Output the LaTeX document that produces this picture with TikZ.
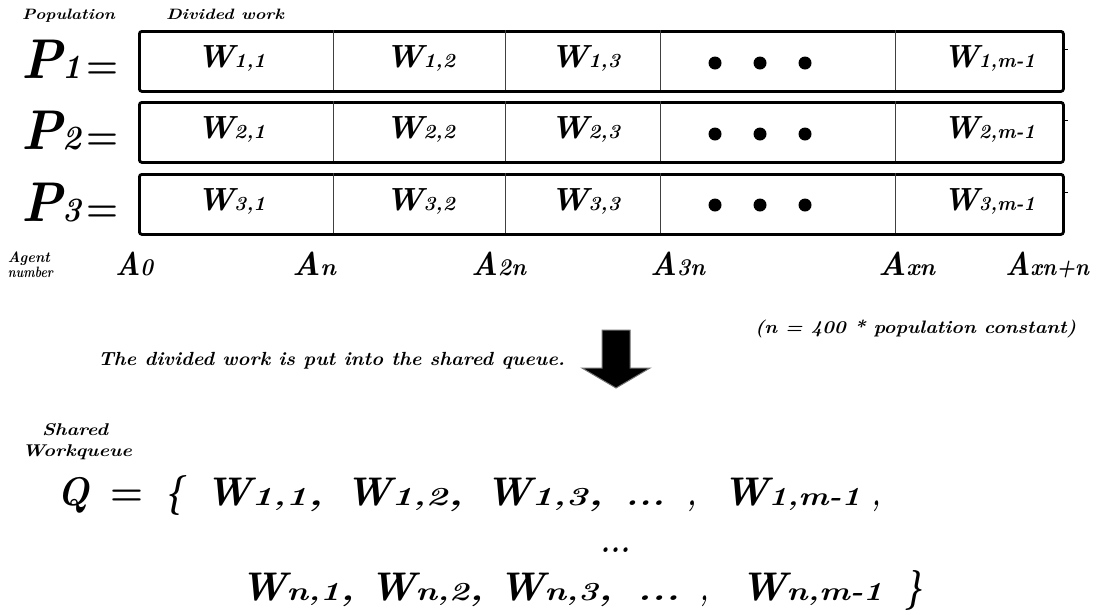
\documentclass[tikz,border=0pt]{standalone}
\usepackage{fontspec}
\usepackage{graphicx}
\newcommand\fs[1]{\fontsize{#1}{#1}\selectfont}
\newcommand\fitw[2]{\resizebox{#1}{\height}{#2}}
\newcommand\qw[3]{\fs{40}W\fitw{#3}{\fs{26}#1\fs{32}#2}}
\tikzset{
  lbl/.style={inner sep=0pt, outer sep=0pt, font=\bfseries\itshape, anchor=base west},
  lblc/.style={inner sep=0pt, outer sep=0pt, font=\bfseries\itshape, anchor=base},
  rowbox/.style={draw, line width=2.8pt, rounded corners=2.5pt, minimum width=924pt, minimum height=60pt, anchor=north west, inner sep=0pt},
  divider/.style={line width=0.9pt, black!75},
  dotmark/.style={circle, fill=black, minimum size=13pt, inner sep=0pt},
  tick/.style={line width=1.6pt},
}
\begin{document}
\begin{tikzpicture}[x=1pt,y=-1pt]
\fill[white] (0,0) rectangle (1110,614);
\useasboundingbox (0,0) rectangle (1110,614);

% header labels
\node[lbl] (pop) at (22,19) {\fitw{93pt}{\fs{15}Population}};
\node[lbl] (div) at (166,19) {\fitw{118pt}{\fs{15}Divided work}};

% rows
\foreach \r/\top/\base/\dy in {1/30/67/63, 2/101/138/134, 3/173/210/205}{
  \node[rowbox] (r\r) at (138,\top) {};
  \draw[divider] (333,\top) -- ++(0,60);
  \draw[divider] (505,\top) -- ++(0,60);
  \draw[divider] (660,\top) -- ++(0,60);
  \draw[divider] (895,\top) -- ++(0,60);
  \draw[tick] (r\r.east) ++(0,-12) -- ++(3,0);
  \node[lbl] (p\r) at (21,\base+11) {\fitw{60pt}{\fs{56}P\fs{34}\r}};
  \node[lbl] (e\r) at (86,\base+11) {\fitw{32pt}{\fs{40}\upshape=}};
  \node[lblc] (w\r a) at (231,\base) {\fitw{69pt}{\fs{32}W\fs{20}\r,1}};
  \node[lblc] (w\r b) at (420,\base) {\fitw{70pt}{\fs{32}W\fs{20}\r,2}};
  \node[lblc] (w\r c) at (585,\base) {\fitw{70pt}{\fs{32}W\fs{20}\r,3}};
  \node[lblc] (w\r m) at (989,\base) {\fitw{92pt}{\fs{32}W\fs{20}\r,m-1}};
  \node[dotmark] (d\r a) at (715,\dy) {};
  \node[dotmark] (d\r b) at (760,\dy) {};
  \node[dotmark] (d\r c) at (805,\dy) {};
}

% agent numbers
\node[lbl] (ag1) at (8,262) {\fitw{42pt}{\fs{15}Agent}};
\node[lbl] (ag2) at (8,277) {\fitw{45pt}{\fs{15}number}};
\node[lbl] (a0) at (115,275) {\fitw{38pt}{\fs{33}A\fs{24}0}};
\node[lbl] (a1) at (292,275) {\fitw{44pt}{\fs{33}A\fs{24}n}};
\node[lbl] (a2) at (471,275) {\fitw{55pt}{\fs{33}A\fs{24}2n}};
\node[lbl] (a3) at (650,275) {\fitw{55pt}{\fs{33}A\fs{24}3n}};
\node[lbl] (ax) at (878,275) {\fitw{57pt}{\fs{33}A\fs{24}xn}};
\node[lbl] (axn) at (1005,275) {\fitw{84pt}{\fs{33}A\fs{24}xn+n}};

\node[lbl] (note) at (755,333) {\fitw{321pt}{\fs{18}(n = 400 * population constant)}};
\node[lbl] (put) at (98,365) {\fitw{467pt}{\fs{19}The divided work is put into the shared queue.}};

% block arrow
\draw[fill=black, draw=black!55, line width=1pt, line join=miter]
  (602,330) -- (630,330) -- (630,368) -- (650,368) -- (616,388) -- (582,368) -- (602,368) -- cycle;

% shared workqueue
\node[lbl] (sh1) at (42,435) {\fitw{66pt}{\fs{17}Shared}};
\node[lbl] (sh2) at (22,456) {\fitw{110pt}{\fs{17}Workqueue}};

% queue line 1
\node[lbl] (qQ) at (57,505) {\fitw{32pt}{\fs{40}Q}};
\node[lbl] (qeq) at (110,505) {\fitw{33pt}{\fs{40}\upshape=}};
\node[lbl] (qlb) at (165,505) {\fitw{18pt}{\fs{40}\{}};
\node[lbl] (q11) at (205,505) {\qw{1,1}{,}{72pt}};
\node[lbl] (q12) at (345,505) {\qw{1,2}{,}{72pt}};
\node[lbl] (q13) at (485,505) {\qw{1,3}{,}{72pt}};
\node[lbl] (q1d) at (625,505) {\fitw{40pt}{\fs{32}...}};
\node[lbl] (q1c) at (687,505) {\fitw{9pt}{\fs{32},}};
\node[lbl] (q1m) at (722,505) {\qw{1,m-1}{}{92pt}};
\node[lbl] (q1e) at (872,505) {\fitw{8pt}{\fs{32},}};

% middle dots
\node[lbl] (qmid) at (600,552) {\fitw{30pt}{\fs{32}...}};

% queue line 3
\node[lbl] (qn1) at (240,600) {\qw{n,1}{,}{68pt}};
\node[lbl] (qn2) at (369,600) {\qw{n,2}{,}{68pt}};
\node[lbl] (qn3) at (498,600) {\qw{n,3}{,}{68pt}};
\node[lbl] (qnd) at (637,600) {\fitw{43pt}{\fs{32}...}};
\node[lbl] (qnc) at (700,600) {\fitw{8pt}{\fs{32},}};
\node[lbl] (qnm) at (740,600) {\qw{n,m-1}{}{96pt}};
\node[lbl] (qrb) at (905,600) {\fitw{17pt}{\fs{40}\}}};
\end{tikzpicture}
\end{document}
